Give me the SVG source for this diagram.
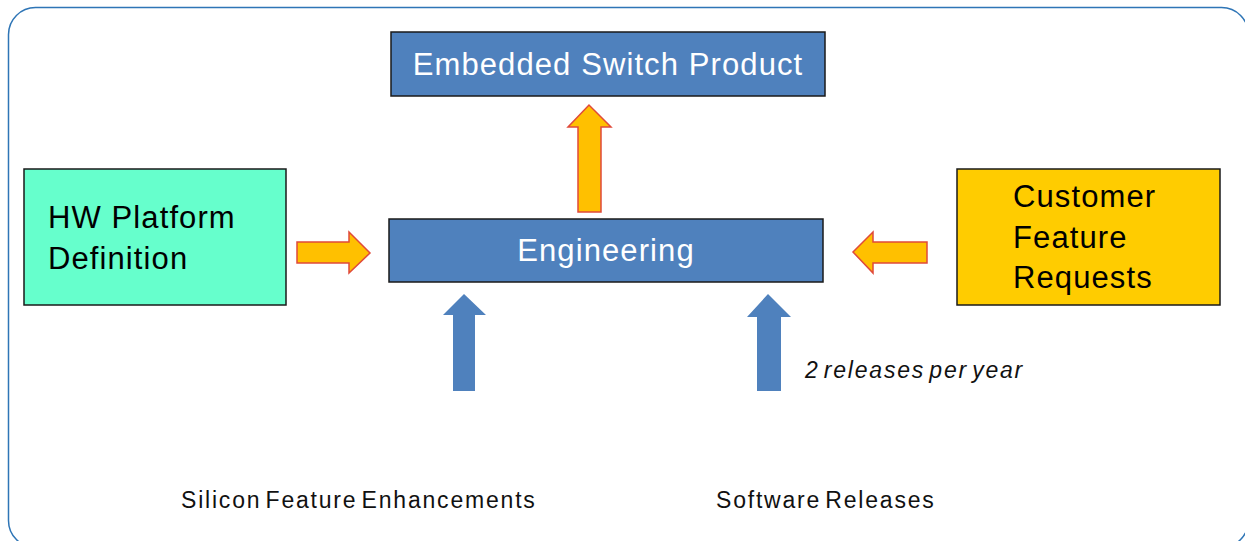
<svg xmlns="http://www.w3.org/2000/svg" width="1245" height="541" viewBox="0 0 1245 541">
<style>
.box{stroke:#1a1a1a;stroke-width:1.5}
.blue{fill:#4F81BD}
.t{font-family:"Liberation Sans",Arial,sans-serif}
.w{fill:#ffffff;font-size:31px;letter-spacing:1.1px}
.k{fill:#000000;font-size:31px;letter-spacing:1.1px}
.oa{fill:#FFC000;stroke:#E04A3A;stroke-width:1.5;stroke-linejoin:miter}
.ba{fill:#4F81BD;stroke:none}
.lab{fill:#111;font-size:23px;letter-spacing:1.8px;word-spacing:-4px}
</style>
<rect x="8.5" y="7.5" width="1240" height="540" rx="27" ry="27" fill="#ffffff" stroke="#2E75B6" stroke-width="1.5"/>
<g id="embedded">
<rect class="box blue" x="391" y="32" width="434" height="64"/>
<text class="t w" x="608" y="75" text-anchor="middle">Embedded Switch Product</text>
</g>
<g id="engineering">
<rect class="box blue" x="389" y="219" width="434" height="63"/>
<text class="t w" x="606" y="261" text-anchor="middle">Engineering</text>
</g>
<g id="hw">
<rect class="box" fill="#66FFCC" x="24" y="169" width="262" height="136"/>
<text class="t k" x="48" y="228">HW Platform</text>
<text class="t k" x="48" y="269">Definition</text>
</g>
<g id="customer">
<rect class="box" fill="#FFCC00" x="957" y="169" width="263" height="136"/>
<text class="t k" x="1013" y="207">Customer</text>
<text class="t k" x="1013" y="248">Feature</text>
<text class="t k" x="1013" y="288">Requests</text>
</g>
<g id="silicon">
<text class="t lab" x="181" y="508">Silicon Feature Enhancements</text>
</g>
<g id="software">
<text class="t lab" x="716" y="508">Software Releases</text>
</g>
<g id="connectors">
<polygon class="oa" points="297,242 349,242 349,232 370,253 349,273 349,263 297,263"/>
<polygon class="oa" points="578,212 578,127 568,127 589,105 611,127 601,127 601,212"/>
<polygon class="oa" points="927,242 873,242 873,232 853,252 873,273 873,263 927,263"/>
<polygon class="ba" points="453,391 453,315 443,315 464,294 486,315 475,315 475,391"/>
<polygon class="ba" points="757,391 757,317 747,317 768,294 791,317 781,317 781,391"/>
<text class="t lab" x="805" y="378" font-style="italic">2 releases per year</text>
</g>
</svg>
